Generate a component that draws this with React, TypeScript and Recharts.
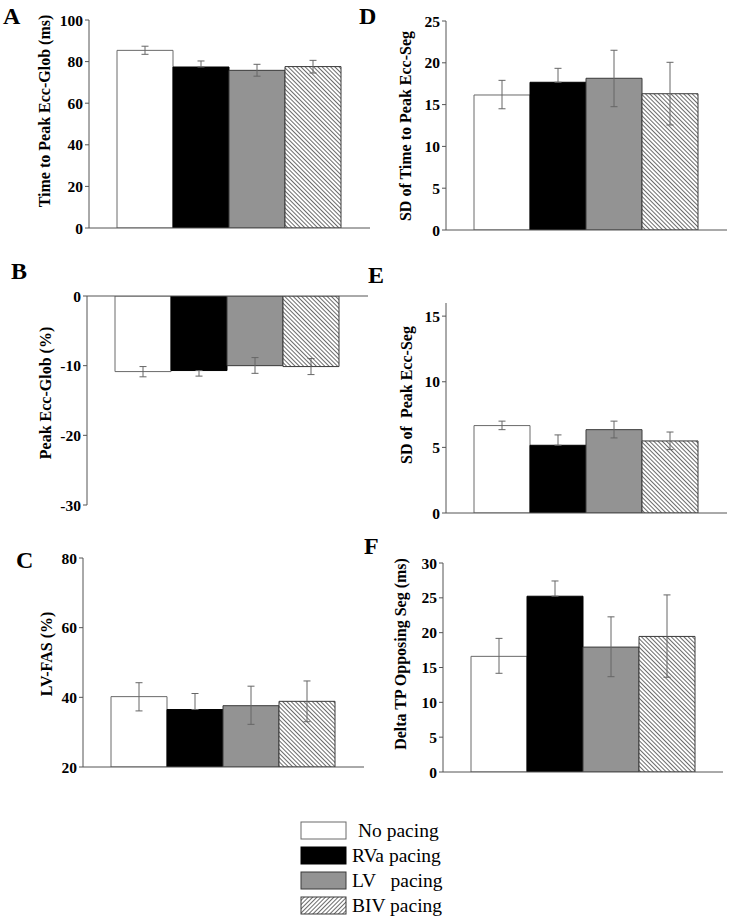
import { BarChart, Bar, XAxis, YAxis, ErrorBar } from 'recharts'

const FONT = "'Liberation Serif', 'Times New Roman', Times, serif"

const groups = ['No pacing', 'RVa pacing', 'LV   pacing', 'BIV pacing']
const groupKeys = ['none', 'rva', 'lv', 'biv']

// A: time to peak global eccentric strain (ms)
const timeToPeakGlob = [85.4, 77.4, 75.8, 77.6]
const timeToPeakGlobErr = [[1.9, 2.0], [0, 2.9], [2.8, 2.9], [3.1, 3.0]]
// B: peak global eccentric strain (%)
const peakGlob = [-10.85, -10.7, -10.0, -10.13]
const peakGlobErr = [[0.75, 0.72], [0.8, 0], [1.1, 1.16], [1.15, 1.15]]
// C: LV-FAS (%)
const lvFas = [40.2, 36.5, 37.6, 38.85]
const lvFasErr = [[4.1, 4.0], [0, 4.6], [5.35, 5.6], [5.85, 5.85]]
// D: SD of time to peak segmental strain
const sdTimeToPeakSeg = [16.15, 17.67, 18.15, 16.3]
const sdTimeToPeakSegErr = [[1.65, 1.75], [0, 1.67], [3.4, 3.35], [3.74, 3.76]]
// E: SD of peak segmental strain
const sdPeakSeg = [6.66, 5.16, 6.35, 5.49]
const sdPeakSegErr = [[0.31, 0.34], [0, 0.79], [0.63, 0.65], [0.66, 0.68]]
// F: delta TP opposing segments (ms)
const deltaTp = [16.6, 25.23, 17.93, 19.46]
const deltaTpErr = [[2.43, 2.58], [0, 2.19], [4.25, 4.34], [5.86, 5.96]]

const BAR_STYLES = [
  { fill: '#ffffff', stroke: '#6a6a6a' },
  { fill: '#000000', stroke: '#000000' },
  { fill: '#939393', stroke: '#3a3a3a' },
  { fill: 'url(#hatchBar)', stroke: '#3a3a3a' },
]

const AX_H = 8
const Y_W = 50

interface PanelProps {
  letter: string
  letterPos: [number, number]
  title: string
  titlePos: [number, number]
  values: number[]
  errors: number[][]
  domain: [number, number]
  ticks: number[]
  box: { left: number; top: number; width: number; height: number }
  plot: { x0: number; x1: number; y0: number; y1: number }
  axisTop?: boolean
}

const panels: PanelProps[] = [
  {
    letter: 'A', letterPos: [3, 24],
    title: 'Time to Peak Ecc-Glob (ms)', titlePos: [44, 111],
    values: timeToPeakGlob, errors: timeToPeakGlobErr,
    domain: [0, 100], ticks: [0, 20, 40, 60, 80, 100],
    box: { left: 0, top: 0, width: 380, height: 245 },
    plot: { x0: 89, x1: 370, y0: 20, y1: 228 },
  },
  {
    letter: 'B', letterPos: [11, 279],
    title: 'Peak Ecc-Glob (%)', titlePos: [45, 393],
    values: peakGlob, errors: peakGlobErr,
    domain: [-30, 0], ticks: [-30, -20, -10, 0],
    box: { left: 0, top: 250, width: 380, height: 270 },
    plot: { x0: 87, x1: 368, y0: 296, y1: 505 },
    axisTop: true,
  },
  {
    letter: 'C', letterPos: [16, 568],
    title: 'LV-FAS (%)', titlePos: [46, 654],
    values: lvFas, errors: lvFasErr,
    domain: [20, 80], ticks: [20, 40, 60, 80],
    box: { left: 0, top: 530, width: 380, height: 250 },
    plot: { x0: 83, x1: 364, y0: 558, y1: 767 },
  },
  {
    letter: 'D', letterPos: [359, 24],
    title: 'SD of Time to Peak Ecc-Seg', titlePos: [405, 126],
    values: sdTimeToPeakSeg, errors: sdTimeToPeakSegErr,
    domain: [0, 25], ticks: [0, 5, 10, 15, 20, 25],
    box: { left: 360, top: 0, width: 371, height: 245 },
    plot: { x0: 446, x1: 727, y0: 21, y1: 230 },
  },
  {
    letter: 'E', letterPos: [368, 283],
    title: 'SD of  Peak Ecc-Seg', titlePos: [406, 395],
    values: sdPeakSeg, errors: sdPeakSegErr,
    domain: [0, 16], ticks: [0, 5, 10, 15],
    box: { left: 360, top: 250, width: 371, height: 275 },
    plot: { x0: 446, x1: 727, y0: 303, y1: 513 },
  },
  {
    letter: 'F', letterPos: [364, 554],
    title: 'Delta TP Opposing Seg (ms)', titlePos: [400, 654],
    values: deltaTp, errors: deltaTpErr,
    domain: [0, 30], ticks: [0, 5, 10, 15, 20, 25, 30],
    box: { left: 360, top: 530, width: 371, height: 255 },
    plot: { x0: 443, x1: 723, y0: 563, y1: 772 },
  },
]

function TickLabel(props: any) {
  const { x, y, payload } = props
  return (
    <text
      x={x}
      y={y}
      dy="0.355em"
      textAnchor="end"
      fontFamily={FONT}
      fontWeight="bold"
      fontSize={15.5}
      fill="#000000"
    >
      {payload.value}
    </text>
  )
}

function Panel(p: PanelProps) {
  const row: any = { name: '' }
  groupKeys.forEach((k, i) => {
    row[k] = p.values[i]
    row[k + 'Err'] = p.errors[i]
  })
  const margin = {
    left: p.plot.x0 - p.box.left - Y_W,
    right: p.box.left + p.box.width - p.plot.x1,
    top: p.plot.y0 - p.box.top - (p.axisTop ? AX_H : 0),
    bottom: p.box.top + p.box.height - p.plot.y1 - (p.axisTop ? 0 : AX_H),
  }
  const tx = p.titlePos[0] - p.box.left
  const ty = p.titlePos[1] - p.box.top

  return (
    <div style={{ position: 'absolute', left: p.box.left, top: p.box.top, fontFamily: FONT }}>
      <BarChart
        width={p.box.width}
        height={p.box.height}
        data={[row]}
        margin={margin}
        barGap={0}
        barCategoryGap={28}
      >
        <XAxis
          dataKey="name"
          orientation={p.axisTop ? 'top' : 'bottom'}
          height={AX_H}
          tick={false}
          tickLine={!p.axisTop}
          tickSize={4}
          stroke="#555555"
        />
        <YAxis
          type="number"
          width={Y_W}
          domain={p.domain}
          ticks={p.ticks}
          allowDataOverflow
          interval={0}
          tickSize={4}
          tickMargin={2}
          stroke="#555555"
          tick={<TickLabel />}
          label={{
            content: () => (
              <text
                x={tx}
                y={ty}
                transform={`rotate(-90 ${tx} ${ty})`}
                textAnchor="middle"
                dominantBaseline="central"
                fontFamily={FONT}
                fontWeight="bold"
                fontSize={16}
                fill="#000000"
                style={{ whiteSpace: 'pre' }}
              >
                {p.title}
              </text>
            ),
          }}
        />
        {groupKeys.map((k, i) => (
          <Bar
            key={k}
            dataKey={k}
            name={groups[i]}
            fill={BAR_STYLES[i].fill}
            stroke={BAR_STYLES[i].stroke}
            strokeWidth={1}
            isAnimationActive={false}
          >
            <ErrorBar
              dataKey={k + 'Err'}
              direction="y"
              width={3.5}
              stroke="#666666"
              strokeWidth={1}
              isAnimationActive={false}
            />
          </Bar>
        ))}
      </BarChart>
    </div>
  )
}

export default function App() {
  return (
    <div style={{ position: 'absolute', left: 0, top: 0, width: 731, height: 922, background: '#fff', fontFamily: FONT }}>
      <svg width={731} height={922} style={{ position: 'absolute', left: 0, top: 0 }}>
        <defs>
          <pattern id="hatchBar" width={3} height={3} patternUnits="userSpaceOnUse" patternTransform="rotate(-45)">
            <rect width={3} height={3} fill="#ffffff" />
            <line x1={0.5} y1={0} x2={0.5} y2={3} stroke="#5a5a5a" strokeWidth={0.9} />
          </pattern>
          <pattern id="hatchLegend" width={3} height={3} patternUnits="userSpaceOnUse" patternTransform="rotate(45)">
            <rect width={3} height={3} fill="#ffffff" />
            <line x1={0.5} y1={0} x2={0.5} y2={3} stroke="#5a5a5a" strokeWidth={0.9} />
          </pattern>
        </defs>
        {panels.map(p => (
          <text key={p.letter} x={p.letterPos[0]} y={p.letterPos[1]} fontFamily={FONT} fontWeight="bold" fontSize={24} fill="#000">
            {p.letter}
          </text>
        ))}
        {groups.map((g, i) => (
          <g key={g}>
            <rect
              x={301}
              y={822 + i * 25}
              width={45}
              height={17}
              fill={i === 3 ? 'url(#hatchLegend)' : BAR_STYLES[i].fill}
              stroke={i === 0 ? '#6a6a6a' : BAR_STYLES[i].stroke}
              strokeWidth={1}
            />
            <text
              x={i === 0 ? 358 : 352}
              y={837 + i * 25}
              fontFamily={FONT}
              fontSize={19.5}
              fill="#000"
              style={{ whiteSpace: 'pre' }}
            >
              {g}
            </text>
          </g>
        ))}
      </svg>
      {panels.map(p => <Panel key={p.letter} {...p} />)}
    </div>
  )
}
